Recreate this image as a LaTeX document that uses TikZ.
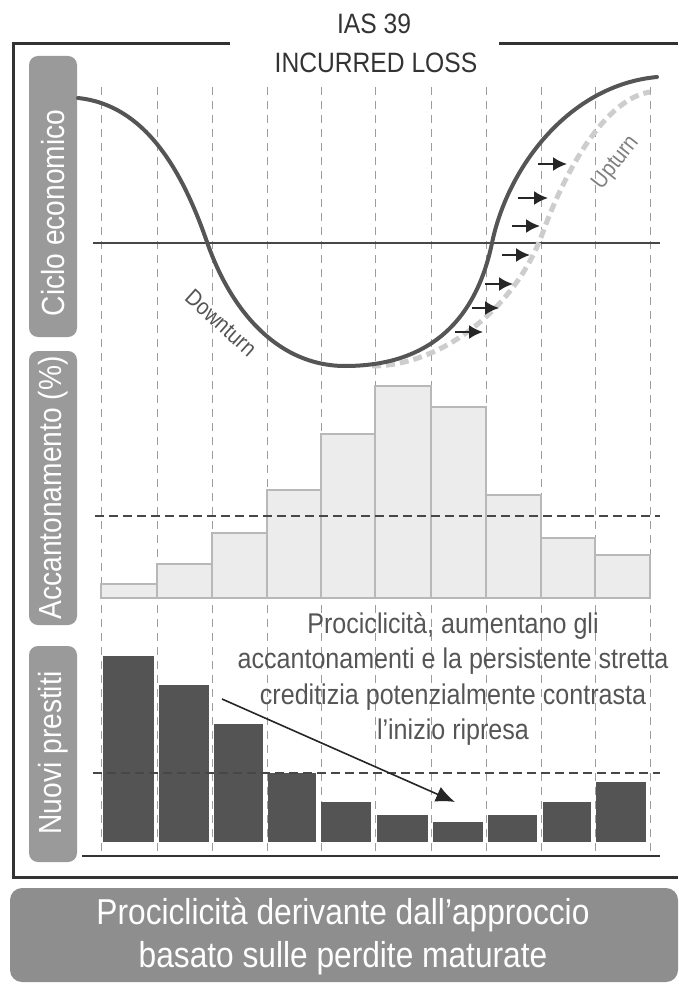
\documentclass[tikz,border=0pt]{standalone}
\usepackage{fontspec}
\setmainfont{Liberation Sans}[FakeStretch=0.88]
\usetikzlibrary{arrows.meta}
\definecolor{framec}{HTML}{333333}
\definecolor{tabgray}{HTML}{9A9A9A}
\definecolor{bannergray}{HTML}{8E8E8E}
\definecolor{curvec}{HTML}{555555}
\definecolor{lagc}{HTML}{CDCDCD}
\definecolor{gridc}{HTML}{9C9C9C}
\definecolor{accfill}{HTML}{ECECEC}
\definecolor{accline}{HTML}{B8B8B8}
\definecolor{loanfill}{HTML}{545454}
\definecolor{textc}{HTML}{555555}
\begin{document}
\begin{tikzpicture}[x=1pt,y=-1pt,
  framel/.style={draw=framec,line width=3pt},
  tabbox/.style={draw=none,fill=tabgray,rounded corners=9pt,rotate=90,minimum height=48pt,inner sep=0pt},
  tabtext/.style={text=white,rotate=90,inner sep=0pt,font=\fontsize{32}{36}\selectfont},
  gridl/.style={draw=gridc,line width=0.9pt,dash pattern=on 8pt off 6pt},
  refline/.style={draw=framec!90,line width=1.4pt,dash pattern=on 9pt off 5pt},
  accbar/.style={fill=accfill,draw=accline,line width=1.5pt},
  loanbar/.style={fill=loanfill,draw=none},
  lagarrow/.style={-{Latex[length=14pt,width=14pt]},line width=2pt,draw=black!85,fill=black!85},
  titletext/.style={text=black!80,inner sep=0pt,font=\fontsize{28}{32}\selectfont},
  phase/.style={text=textc,inner sep=0pt,font=\fontsize{23}{26}\selectfont}
]
\useasboundingbox (0,0) rectangle (678,984);
% frame
\draw[framel] (13,44) -- (230,44);
\draw[framel] (499,44) -- (678,44);
\draw[framel] (13,42.5) -- (13,877);
\draw[framel] (11.5,877) -- (678,877);
% titles
\node[titletext] (ias) at (374,24) {IAS 39};
\node[titletext] (incurred) at (376,63) {INCURRED LOSS};
% side tabs
\node[tabbox,minimum width=281pt] (tab1) at (53,196.5) {};
\node[tabtext] (tab1t) at (53,213) {Ciclo economico};
\node[tabbox,minimum width=274pt] (tab2) at (53,488) {};
\node[tabtext] (tab2t) at (53,488) {Accantonamento (\%)};
\node[tabbox,minimum width=216pt] (tab3) at (53,754) {};
\node[tabtext] (tab3t) at (53,753) {Nuovi prestiti};
% grid
\foreach \gx in {101,157,212,267,321,375,431,486,541,595,650}
  \draw[gridl] (\gx,87) -- (\gx,855);
% accantonamento bars
\foreach \xa/\xb/\yt in {101/157/584,157/212/564,212/267/533,267/321/490,321/375/434,375/431/386,431/486/407,486/541/495,541/595/538,595/650/555}
  \draw[accbar] (\xa,598) rectangle (\xb,\yt);
% nuovi prestiti bars
\foreach \xa/\xb/\yt in {103/154/656,159/209/685,214/263/724,268/316/773,321/371/802,377/428/815,433/483/822,488/537/815,543/591/802,596/646/782}
  \fill[loanbar] (\xa,842) rectangle (\xb,\yt);
% reference lines
\draw[framec!90,line width=1.4pt] (93,243) -- (660,243);
\draw[refline] (95,516) -- (660,516);
\draw[refline] (93,773) -- (660,773);
\draw[framec,line width=2.5pt] (82,856) -- (660,856);
% lagged cycle (dashed, light)
\draw[lagc,line width=5pt,dash pattern=on 9pt off 5pt]
  (372,366) .. controls (440,366) and (515,310) .. (543,232)
            .. controls (560,185) and (600,100) .. (650,92);
% economic cycle (solid)
\draw[curvec,line width=4pt,line cap=round]
  (78,98) .. controls (145,105) and (182,170) .. (207,242)
          .. controls (232,314) and (280,366) .. (345,366)
          .. controls (430,366) and (476,320) .. (492,243)
          .. controls (508,166) and (570,85) .. (657,77);
% lag arrows
\foreach \i/\xa/\xb/\yy in {1/455/483/332,2/472/499/308,3/485/513/284,4/502/530/255,5/512/540/226,6/518/548/198,7/538/567/164}{
  \coordinate (la\i) at (\xa,\yy);
  \coordinate (lb\i) at (\xb,\yy);
  \draw[lagarrow] (la\i) -- (lb\i);
}
% phase labels
\node[phase,rotate=-42] (down) at (221,323) {Downturn};
\node[phase,rotate=52,text=black!50] (up) at (616,163) {Upturn};
% explanatory text
\node[text=textc,inner sep=0pt,align=center,font=\fontsize{28.5}{35.5}\selectfont] (expl) at (453,679)
  {Prociclicità, aumentano gli\\accantonamenti e la persistente stretta\\creditizia potenzialmente contrasta\\l'inizio ripresa};
% trend arrow
\coordinate (ta) at (222,699);
\coordinate (tb) at (455,802);
\draw[-{Latex[length=19pt,width=16pt]},line width=1.6pt,draw=black!85,fill=black!85] (ta) -- (tb);
% bottom banner
\node[fill=bannergray,rounded corners=12pt,minimum width=668pt,minimum height=94pt,inner sep=0pt] (banner) at (344,935) {};
\node[text=white,inner sep=0pt,align=center,font=\fontsize{36}{43}\selectfont] (bannert) at (343,936)
  {Prociclicità derivante dall'approccio\\basato sulle perdite maturate};
\end{tikzpicture}
\end{document}
